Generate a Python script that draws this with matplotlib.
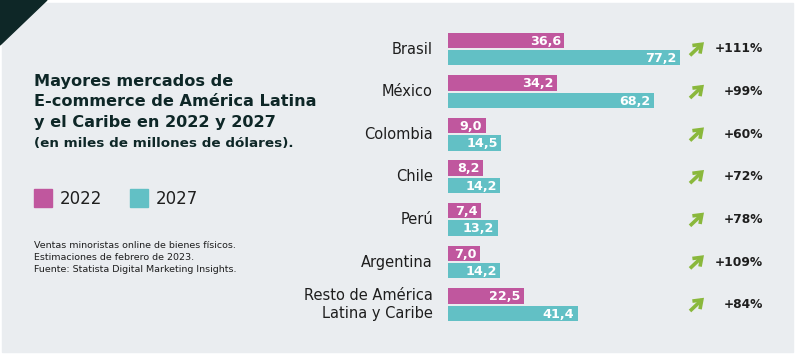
import matplotlib
matplotlib.use("Agg")
import matplotlib.pyplot as plt
from matplotlib.patches import Rectangle, Polygon

# ── data ──────────────────────────────────────────────────────────────
countries = ["Brasil", "México", "Colombia", "Chile", "Perú", "Argentina",
             "Resto de América\nLatina y Caribe"]
v2022 = [36.6, 34.2, 9.0, 8.2, 7.4, 7.0, 22.5]
v2027 = [77.2, 68.2, 14.5, 14.2, 13.2, 14.2, 41.4]
growth = ["+111%", "+99%", "+60%", "+72%", "+78%", "+109%", "+84%"]
years = ["2022", "2027"]

C22 = "#c0579e"
C27 = "#62c0c5"
GREEN = "#8ab83c"
BG = "#eaedf0"
DARK = "#0e2727"
TXT = "#1e1e1e"

W, H = 799, 360
fig = plt.figure(figsize=(W / 100, H / 100), dpi=100)
fig.patch.set_facecolor("white")

def fx(px): return px / W
def fy(py): return 1 - py / H

# background panel + corner triangle
fig.patches.append(Rectangle((fx(2), fy(352)), fx(793) - fx(2), fy(3) - fy(352),
                             transform=fig.transFigure, color=BG, zorder=0))
fig.patches.append(Polygon([(0, 1), (fx(47), 1), (0, fy(45))], closed=True,
                           transform=fig.transFigure, color=DARK, zorder=1))

# ── bars: axes over whole figure; value 0 sits at px 460, bars get a
#    small stub so they all start at px 448 (room for the labels) ──────
ax = fig.add_axes([0, 0, 1, 1])
ax.set_zorder(5)
ax.set_facecolor("none")
scale = 2.85
x0 = 460
stub = 12 / scale
ax.set_xlim(-x0 / scale, (W - x0) / scale)
pitch = 42.6
top = 49
ax.set_ylim((H - top) / pitch, -top / pitch)
ax.axis("off")

def px(p): return (p - x0) / scale

bh = 15.5 / pitch
off = 8.7 / pitch
ys = list(range(len(countries)))
ax.barh([y - off for y in ys], [v + stub for v in v2022], left=-stub,
        height=bh, color=C22, zorder=2)
ax.barh([y + off for y in ys], [v + stub for v in v2027], left=-stub,
        height=bh, color=C27, zorder=2)

pad = 3.5 / scale
for y, a, b, c, g in zip(ys, v2022, v2027, countries, growth):
    ax.text(a - pad, y - off + 0.02, f"{a:.1f}".replace(".", ","), ha="right", va="center",
            color="white", fontsize=9.2, fontweight="bold", zorder=3)
    ax.text(b - pad, y + off + 0.02, f"{b:.1f}".replace(".", ","), ha="right", va="center",
            color="white", fontsize=9.2, fontweight="bold", zorder=3)
    ax.text(px(433), y, c, ha="right", va="center", color=TXT,
            fontsize=10.5, multialignment="right", linespacing=1.3)
    ax.annotate("", xy=(px(704), y - 0.16), xytext=(px(690), y + 0.15),
                arrowprops=dict(arrowstyle="->,head_length=0.55,head_width=0.4",
                                color=GREEN, lw=2.6, shrinkA=0, shrinkB=0,
                                capstyle="butt", joinstyle="miter"))
    ax.text(px(763), y, g, ha="right", va="center", color=TXT,
            fontsize=8.8, fontweight="bold")

# ── left panel texts ──────────────────────────────────────────────────
title = "Mayores mercados de\nE-commerce de América Latina\ny el Caribe en 2022 y 2027"
fig.text(fx(34), fy(74), title, ha="left", va="top", fontsize=11.6, fontweight="bold",
         color=DARK, linespacing=1.45)
fig.text(fx(34), fy(137), "(en miles de millones de dólares).", ha="left", va="top",
         fontsize=9.7, fontweight="bold", color=DARK)

for i, (yr, col) in enumerate(zip(years, [C22, C27])):
    lx = 34 + i * 96
    fig.patches.append(Rectangle((fx(lx), fy(207)), fx(18), fy(189) - fy(207),
                                 transform=fig.transFigure, color=col, zorder=2))
    fig.text(fx(lx + 26), fy(198.5), yr, ha="left", va="center", fontsize=12,
             color=TXT)

note = ("Ventas minoristas online de bienes físicos.\n"
        "Estimaciones de febrero de 2023.\n"
        "Fuente: Statista Digital Marketing Insights.")
fig.text(fx(34), fy(241), note, ha="left", va="top", fontsize=6.8, color=TXT,
         linespacing=1.4)

fig.savefig("out.png", dpi=100, facecolor=fig.get_facecolor())
